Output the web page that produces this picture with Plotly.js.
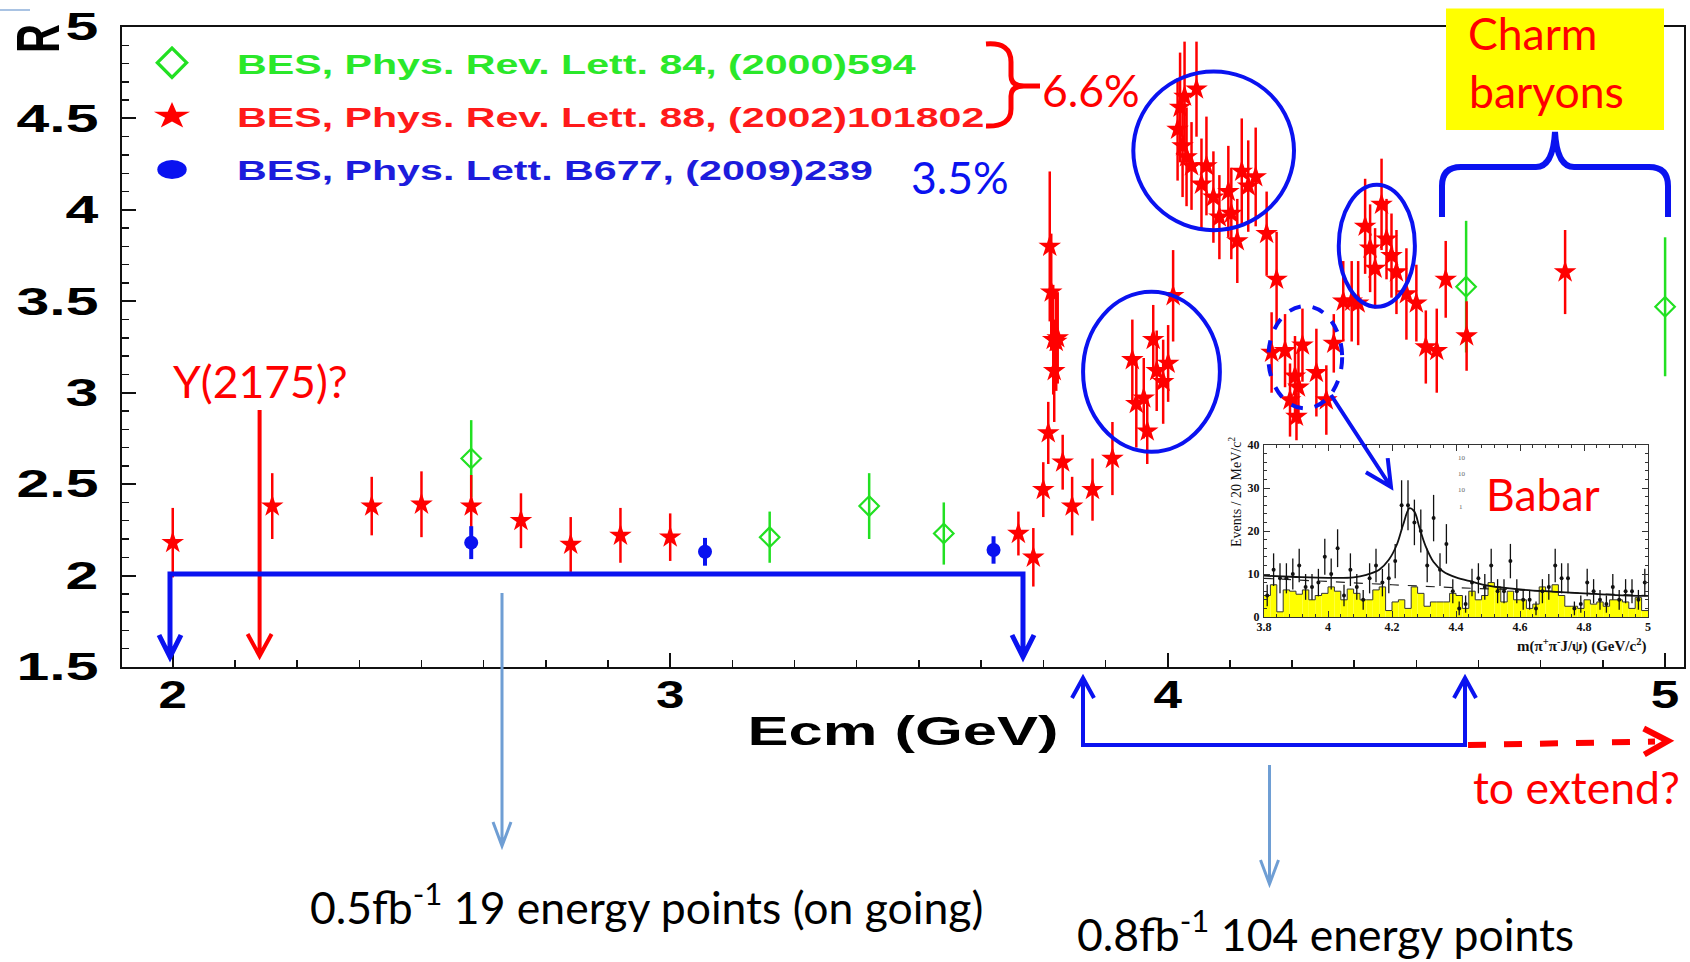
<!DOCTYPE html>
<html>
<head>
<meta charset="utf-8">
<script src="https://cdn.plot.ly/plotly-3.0.1.min.js"></script>
<style>
  html, body { margin: 0; padding: 0; background: #ffffff; }
  #chart { width: 1690px; height: 962px; }
</style>
</head>
<body>
<div id="chart"></div>
<script>
// ---- R ratio measurements (BES) ----
const bes2000_E   = [2.60, 3.20, 3.40, 3.55, 4.60, 5.00];
const bes2000_R   = [2.64, 2.21, 2.38, 2.23, 3.58, 3.47];
const bes2000_err = [0.21, 0.14, 0.18, 0.17, 0.36, 0.38];

const bes2002_E = [2.000, 2.200, 2.400, 2.500, 2.600, 2.700, 2.800, 2.900, 3.000, 3.700,
  3.730, 3.750, 3.760, 3.763, 3.766, 3.770, 3.772, 3.776, 3.779, 3.789,
  3.808, 3.849, 3.889, 3.929, 3.937, 3.952, 3.959, 3.971, 3.978, 3.991,
  4.001, 4.011, 4.020, 4.025, 4.030, 4.034, 4.038, 4.048, 4.058, 4.068,
  4.078, 4.092, 4.104, 4.122, 4.128, 4.140, 4.149, 4.162, 4.177, 4.199,
  4.209, 4.219, 4.236, 4.246, 4.256, 4.259, 4.263, 4.271, 4.299, 4.319,
  4.334, 4.353, 4.370, 4.383, 4.397, 4.407, 4.417, 4.430, 4.440, 4.450,
  4.460, 4.480, 4.500, 4.519, 4.541, 4.559, 4.601, 4.799];
const bes2002_R = [2.18, 2.38, 2.38, 2.39, 2.38, 2.30, 2.17, 2.22, 2.21, 2.23,
  2.10, 2.47, 2.78, 3.80, 3.55, 3.29, 3.12, 3.28, 3.30, 2.62,
  2.38, 2.47, 2.64, 3.18, 2.94, 2.97, 2.79, 3.29, 3.12, 3.06,
  3.16, 3.53, 4.44, 4.56, 4.35, 4.62, 4.29, 4.24, 4.66, 4.14,
  4.24, 4.07, 3.96, 4.10, 3.98, 3.83, 4.21, 4.13, 4.18, 3.87,
  3.22, 3.62, 3.23, 2.96, 3.09, 2.87, 3.03, 3.26, 3.11, 2.96,
  3.27, 3.50, 3.50, 3.49, 3.91, 3.79, 3.68, 4.03, 3.84, 3.75,
  3.66, 3.54, 3.49, 3.25, 3.23, 3.62, 3.31, 3.66];
const bes2002_err = [0.19, 0.18, 0.16, 0.18, 0.17, 0.15, 0.15, 0.15, 0.13, 0.12,
  0.16, 0.15, 0.17, 0.41, 0.32, 0.30, 0.28, 0.27, 0.25, 0.15,
  0.16, 0.17, 0.20, 0.22, 0.24, 0.22, 0.18, 0.19, 0.22, 0.23,
  0.21, 0.25, 0.28, 0.30, 0.28, 0.30, 0.27, 0.24, 0.26, 0.25,
  0.27, 0.25, 0.23, 0.25, 0.25, 0.23, 0.29, 0.25, 0.27, 0.23,
  0.22, 0.26, 0.20, 0.20, 0.22, 0.13, 0.20, 0.20, 0.24, 0.19,
  0.16, 0.22, 0.22, 0.23, 0.26, 0.24, 0.22, 0.25, 0.22, 0.23,
  0.23, 0.25, 0.21, 0.20, 0.23, 0.21, 0.19, 0.23];

const bes2009_E   = [2.60, 3.07, 3.65];
const bes2009_R   = [2.18, 2.13, 2.14];
const bes2009_err = [0.09, 0.076, 0.075];

// ---- BaBar pi+pi-J/psi mass spectrum (inset) ----
const babar_binLo = 3.80, babar_binW = 0.02;
const babar_events = [5, 11, 9, 9, 10, 12, 7, 7, 8, 14,
  10, 16, 5, 11, 7, 4, 9, 12, 8, 9,
  13, 26, 26, 22, 20, 12, 23, 11, 17, 6,
  2, 3, 8, 9, 7, 12, 6, 6, 13, 6,
  4, 4, 2, 6, 7, 12, 9, 9, 2, 3,
  8, 6, 4, 3, 7, 4, 6, 6, 4, 8];
const babar_err = [2.5, 3.8, 3.5, 3.5, 3.6, 3.9, 3.0, 3.0, 3.2, 4.2,
  3.6, 4.4, 2.5, 3.8, 3.0, 2.3, 3.5, 3.9, 3.2, 3.5,
  4.0, 5.8, 5.8, 5.3, 5.0, 3.9, 5.4, 3.8, 4.6, 2.8,
  1.6, 2.0, 3.2, 3.5, 3.0, 3.9, 2.8, 2.8, 4.0, 2.8,
  2.3, 2.3, 1.6, 2.8, 3.0, 3.9, 3.5, 3.5, 1.6, 2.0,
  3.2, 2.8, 2.3, 2.0, 3.0, 2.3, 2.8, 2.8, 2.3, 3.2];
const babar_sideband = [5, 7.5, 1.2, 6.3, 6, 5.3, 6.3, 4, 5, 5.5,
  7, 6, 4, 6.5, 5.5, 4, 4, 6.3, 7, 1.5,
  3.5, 4, 2, 7, 5.5, 2.5, 3.5, 3.5, 3.5, 5.5,
  5, 2, 6, 4, 5, 8, 7, 3.5, 6, 4,
  4, 2, 3, 7, 6, 7.5, 5, 2.5, 2.5, 2,
  4, 3, 3.5, 2.5, 4, 4, 3.5, 2, 4.5, 1.5];
const fit_m  = [3.80, 3.90, 4.00, 4.08, 4.12, 4.16, 4.19, 4.215, 4.235, 4.255, 4.27, 4.285,
  4.305, 4.33, 4.36, 4.40, 4.45, 4.50, 4.60, 4.70, 4.80, 4.90, 5.00];
const fit_ev = [9.6, 9.3, 9.1, 9.2, 9.8, 11.0, 13.3, 16.8, 21.5, 25.3, 24.5, 21.0,
  16.5, 12.8, 10.6, 9.2, 8.2, 7.3, 6.4, 5.9, 5.5, 5.1, 4.9];
const bkgfit_m  = [3.80, 4.00, 4.20, 4.40, 4.60, 4.80, 5.00];
const bkgfit_ev = [9.0, 8.2, 7.5, 6.8, 6.3, 5.5, 5.0];

// ---- axis ticks ----
const xTickVals = [2, 3, 4, 5];
const xTickText = ['2', '3', '4', '5'];
const yTickVals = [1.5, 2, 2.5, 3, 3.5, 4, 4.5, 5];
const yTickText = ['1.5', '2', '2.5', '3', '3.5', '4', '4.5', '5'];
const insetXTicks = [3.8, 4.0, 4.2, 4.4, 4.6, 4.8, 5.0];
const insetXText  = ['3.8', '4', '4.2', '4.4', '4.6', '4.8', '5'];
const insetYTicks = [0, 10, 20, 30, 40];

// ---- colours & fonts ----
const RED = '#ff0000', GREEN = '#22e022', BLUE = '#0a12f0', STEEL = '#6f9ed4';
const BOLD = 'Liberation Sans, Arial, sans-serif';
const SLIDE = 'Lato, Open Sans, sans-serif';
const SERIF = 'Liberation Serif, Times New Roman, serif';
const SLIDE_SIZE = 44.5;

// ---- page geometry (plot frame in px) ----
const W = 1690, H = 962;
const PL = 122, PR = 1684, PT = 27, PB = 667;
const fx = p => (p - PL) / (PR - PL);
const fy = p => (PB - p) / (PB - PT);
const P = (x, y) => fx(x).toFixed(5) + ',' + fy(y).toFixed(5);

function headPath(tx, ty, fromX, fromY, len, half) {
  const dx = fromX - tx, dy = fromY - ty, d = Math.hypot(dx, dy);
  const ux = dx / d, uy = dy / d;
  const bx = tx + ux * len, by = ty + uy * len;
  return 'M' + P(bx - uy * half, by + ux * half) + 'L' + P(tx, ty) + 'L' + P(bx + uy * half, by - ux * half);
}
function arrowPath(x1, y1, x2, y2, len, half) {
  return 'M' + P(x1, y1) + 'L' + P(x2, y2) + headPath(x2, y2, x1, y1, len, half);
}
const shapes = [];
function addPath(path, color, width, dash) {
  shapes.push({ type: 'path', xref: 'paper', yref: 'paper', path: path, layer: 'above',
    line: { color: color, width: width, dash: dash || 'solid' } });
}
function addEllipse(x0, x1, y0, y1, dash) {
  shapes.push({ type: 'circle', xref: 'x', yref: 'y', x0: x0, x1: x1, y0: y0, y1: y1, layer: 'above',
    line: { color: BLUE, width: 4, dash: dash || 'solid' } });
}

// highlighted regions
addEllipse(3.931, 4.254, 3.889, 4.757);
addEllipse(3.830, 4.105, 2.677, 3.552);
addEllipse(4.2025, 4.3508, 2.914, 3.474, 'dash');
addEllipse(4.344, 4.497, 3.470, 4.137);

// "Charm baryons" box and brace
shapes.push({ type: 'rect', xref: 'paper', yref: 'paper', x0: fx(1446), x1: fx(1664), y0: fy(130), y1: fy(8.6),
  fillcolor: '#ffff00', line: { width: 0 }, layer: 'above' });
addPath('M' + P(1442, 217) + 'L' + P(1442, 186) + 'Q' + P(1442, 167) + ' ' + P(1461, 167) +
  'L' + P(1536, 167) + 'Q' + P(1553, 167) + ' ' + P(1555, 132) + 'Q' + P(1557, 167) + ' ' + P(1574, 167) +
  'L' + P(1649, 167) + 'Q' + P(1668, 167) + ' ' + P(1668, 186) + 'L' + P(1668, 217), BLUE, 6);

// brace grouping the first two datasets
addPath('M' + P(986, 44) + 'Q' + P(1011, 42) + ' ' + P(1011, 62) + 'L' + P(1011, 76) +
  'Q' + P(1011, 86) + ' ' + P(1024, 86) + 'Q' + P(1011, 86) + ' ' + P(1011, 96) +
  'L' + P(1011, 109) + 'Q' + P(1011, 127) + ' ' + P(986, 126) + 'M' + P(1022, 86) + 'L' + P(1040, 86), RED, 5);

// Y(2175) marker arrow
addPath(arrowPath(259.6, 410, 259.6, 656, 22, 12), RED, 4);

// 2.0-3.7 GeV scan bracket
addPath('M' + P(170, 655) + 'L' + P(170, 574) + 'L' + P(1023, 574) + 'L' + P(1023, 655) +
  headPath(170, 657, 170, 600, 22, 11) + headPath(1023, 657, 1023, 600, 22, 11), BLUE, 5);
addPath(arrowPath(502, 593, 502, 846, 24, 9), STEEL, 3);

// 3.8-4.6 GeV scan bracket
addPath('M' + P(1083, 680) + 'L' + P(1083, 745) + 'L' + P(1465, 745) + 'L' + P(1465, 680) +
  headPath(1083, 678, 1083, 720, 20, 11) + headPath(1465, 678, 1465, 720, 20, 11), BLUE, 4);
addPath('M' + P(1468, 745) + 'L' + P(1655, 741.5), RED, 6, 'dash');
addPath(headPath(1668, 741, 1640, 741.6, 24, 13), RED, 6);
addPath(arrowPath(1269.5, 765, 1269.5, 884, 24, 9), STEEL, 3);

// pointer from the dashed region into the BaBar spectrum
addPath(arrowPath(1331, 395, 1391, 487, 26, 13), BLUE, 4);

// small rule at the page corner
addPath('M' + P(0, 10) + 'L' + P(30, 10), '#a9c3e3', 2);

// ---- annotations ----
const ann = [];
function note(text, x, y, opts) {
  ann.push(Object.assign({ text: text, xref: 'paper', yref: 'paper', x: fx(x), y: fy(y), showarrow: false,
    xanchor: 'center', yanchor: 'middle', font: { family: SLIDE, size: SLIDE_SIZE, color: '#000' } }, opts || {}));
}
const slideFont = c => ({ family: SLIDE, size: SLIDE_SIZE, color: c });
note('6.6%', 1091, 89, { font: slideFont(RED) });
note('3.5%', 960, 176, { font: slideFont(BLUE) });
note('Y(2175)?', 260, 380, { font: slideFont(RED) });
note('Charm', 1466, 32, { xanchor: 'left', font: slideFont(RED) });
note('baryons', 1467, 91, { xanchor: 'left', font: slideFont(RED) });
note('Babar', 1543, 493, { font: slideFont(RED) });
note('to extend?', 1576, 786, { font: slideFont(RED) });
note('0.5fb<sup>-1</sup> 19 energy points (on going)', 646, 903);
note('0.8fb<sup>-1</sup> 104 energy points', 1325, 930);
note('R', 37, 39, { textangle: -90, font: { family: BOLD, size: 40, weight: 'bold', color: '#000' } });
note('m(π<sup>+</sup>π<sup>-</sup>J/ψ) (GeV/c<sup>2</sup>)', 1648, 645,
  { xanchor: 'right', font: { family: SERIF, size: 15, weight: 'bold', color: '#111' } });
note('Events / 20 MeV/c<sup>2</sup>', 1235, 492,
  { textangle: -90, font: { family: SERIF, size: 14, color: '#111' } });
note('10', 1462, 458, { font: { family: SERIF, size: 7, color: '#666' } });
note('10', 1462, 474, { font: { family: SERIF, size: 7, color: '#666' } });
note('10', 1462, 490, { font: { family: SERIF, size: 7, color: '#666' } });
note('1', 1461, 507, { font: { family: SERIF, size: 7, color: '#666' } });

// ---- traces ----
const binCentres = babar_events.map((_, i) => +(babar_binLo + babar_binW * (i + 0.5)).toFixed(3));
const binEdges = babar_sideband.map((_, i) => +(babar_binLo + babar_binW * i).toFixed(3)).concat([5.0]);
const sidebandStep = babar_sideband.concat([babar_sideband[babar_sideband.length - 1]]);

const traces = [
  { type: 'scatter', mode: 'markers', name: '<span style="color:#2ae82a">BES, Phys. Rev. Lett. 84, (2000)594</span>',
    legendgroup: 'g1', x: bes2000_E, y: bes2000_R,
    error_y: { type: 'data', array: bes2000_err, visible: true, color: GREEN, thickness: 2.5, width: 0 },
    marker: { symbol: 'diamond-open', size: 15, color: GREEN, line: { width: 2.2, color: GREEN } } },
  { type: 'scatter', mode: 'markers', name: '<span style="color:#ff1a1a">BES, Phys. Rev. Lett. 88, (2002)101802</span>',
    legendgroup: 'g2', x: bes2002_E, y: bes2002_R,
    error_y: { type: 'data', array: bes2002_err, visible: true, color: RED, thickness: 2.5, width: 0 },
    marker: { symbol: 'star', size: 17, color: RED, line: { width: 0 } } },
  { type: 'scatter', mode: 'markers', name: '<span style="color:#1c1cdc">BES, Phys. Lett. B677, (2009)239</span>',
    legendgroup: 'g3', x: bes2009_E, y: bes2009_R,
    error_y: { type: 'data', array: bes2009_err, visible: true, color: BLUE, thickness: 4, width: 0 },
    marker: { symbol: 'circle', size: 14, color: BLUE } },

  // inset: BaBar spectrum
  { type: 'bar', x: binCentres, y: babar_sideband, width: babar_binW, xaxis: 'x2', yaxis: 'y2', showlegend: false,
    marker: { color: '#ffff00', line: { width: 0 } } },
  { type: 'scatter', mode: 'lines', x: binEdges, y: sidebandStep, xaxis: 'x2', yaxis: 'y2', showlegend: false,
    line: { shape: 'hv', color: '#333', width: 1 } },
  { type: 'scatter', mode: 'lines', x: bkgfit_m, y: bkgfit_ev, xaxis: 'x2', yaxis: 'y2', showlegend: false,
    line: { color: '#222', width: 1.2, dash: 'dash' } },
  { type: 'scatter', mode: 'lines', x: fit_m, y: fit_ev, xaxis: 'x2', yaxis: 'y2', showlegend: false,
    line: { color: '#111', width: 1.8, shape: 'spline' } },
  { type: 'scatter', mode: 'markers', x: binCentres, y: babar_events, xaxis: 'x2', yaxis: 'y2', showlegend: false,
    error_y: { type: 'data', array: babar_err, visible: true, color: '#111', thickness: 1.3, width: 0 },
    marker: { symbol: 'circle', size: 4, color: '#111' } }
];

const tickFont = { family: BOLD, size: 38, weight: 'bold', color: '#000' };
const insetFont = { family: SERIF, size: 12, weight: 'bold', color: '#111' };

const layout = {
  width: W, height: H,
  margin: { l: PL, r: W - PR, t: PT, b: H - PB, pad: 0 },
  paper_bgcolor: '#ffffff', plot_bgcolor: '#ffffff',
  showlegend: true,
  legend: { x: fx(107), y: fy(38), xanchor: 'left', yanchor: 'top', bgcolor: 'rgba(0,0,0,0)', borderwidth: 0,
    itemwidth: 120, tracegroupgap: 14, traceorder: 'grouped',
    font: { family: BOLD, size: 28, weight: 'bold', color: '#000' } },
  xaxis: {
    range: [1.898, 5.038], tickvals: xTickVals, ticktext: xTickText,
    ticks: 'inside', ticklen: 14, tickwidth: 2, tickcolor: '#111',
    minor: { dtick: 0.125, tick0: 2, ticks: 'inside', ticklen: 7, tickwidth: 1.5, tickcolor: '#111' },
    showline: true, linecolor: '#111', linewidth: 2, mirror: true, showgrid: false, zeroline: false,
    tickfont: tickFont, ticklabelstandoff: -7,
    title: { text: 'Ecm (GeV)', font: { family: BOLD, size: 41, weight: 'bold', color: '#000' }, standoff: 2 }
  },
  yaxis: {
    range: [1.5, 5.0], tickvals: yTickVals, ticktext: yTickText,
    ticks: 'inside', ticklen: 14, tickwidth: 2, tickcolor: '#111',
    minor: { dtick: 0.1, tick0: 1.5, ticks: 'inside', ticklen: 7, tickwidth: 1.5, tickcolor: '#111' },
    showline: true, linecolor: '#111', linewidth: 2, mirror: true, showgrid: false, zeroline: false,
    tickfont: tickFont, ticklabelstandoff: 14
  },
  xaxis2: {
    domain: [fx(1264), fx(1648)], anchor: 'y2', range: [3.8, 5.0],
    tickvals: insetXTicks, ticktext: insetXText, ticks: 'inside', ticklen: 6, tickwidth: 1, tickcolor: '#333',
    minor: { dtick: 0.04, tick0: 3.8, ticks: 'inside', ticklen: 3, tickwidth: 1, tickcolor: '#333' },
    mirror: 'allticks', showline: true, linecolor: '#333', linewidth: 1, showgrid: false, zeroline: false,
    tickfont: insetFont, ticklabelstandoff: -1
  },
  yaxis2: {
    domain: [fy(617), fy(445)], anchor: 'x2', range: [0, 40],
    tickvals: insetYTicks, ticks: 'inside', ticklen: 6, tickwidth: 1, tickcolor: '#333',
    minor: { dtick: 2, tick0: 0, ticks: 'inside', ticklen: 3, tickwidth: 1, tickcolor: '#333' },
    mirror: 'allticks', showline: true, linecolor: '#333', linewidth: 1, showgrid: false, zeroline: false,
    tickfont: insetFont, ticklabelstandoff: 1
  },
  shapes: shapes,
  annotations: ann
};

// widen the heavy sans-serif labels horizontally
function widen(selector, k) {
  document.querySelectorAll(selector).forEach(function (t) {
    const w = t.getComputedTextLength();
    if (w > 0) {
      t.setAttribute('textLength', (w * k).toFixed(1));
      t.setAttribute('lengthAdjust', 'spacingAndGlyphs');
    }
  });
}

Plotly.newPlot('chart', traces, layout, { displayModeBar: false, responsive: false, staticPlot: true })
  .then(function () {
    widen('#chart g.xtick text', 1.35);
    widen('#chart g.ytick text', 1.55);
    widen('#chart g.g-xtitle text', 1.5);
    widen('#chart text.legendtext', 1.47);
    // let the widened legend entries run past the computed legend box
    document.querySelectorAll('#chart g.legend [clip-path]').forEach(function (el) {
      el.removeAttribute('clip-path');
    });
    // larger legend symbols
    const legendScale = [[1.5, 1.5], [1.7, 1.25], [2.1, 1.35]];
    document.querySelectorAll('#chart g.legend g.traces').forEach(function (g, i) {
      const s = legendScale[i];
      if (!s) return;
      g.querySelectorAll('g.legendpoints path.scatterpts').forEach(function (p) {
        const tr = p.getAttribute('transform') || '';
        p.setAttribute('transform', tr + ' scale(' + s[0] + ',' + s[1] + ')');
      });
    });
    // broaden the rotated "R" across the page
    document.querySelectorAll('#chart text.annotation-text').forEach(function (t) {
      if (t.textContent === 'R') {
        const b = t.getBBox();
        const cy = b.y + b.height / 2;
        const tr = t.getAttribute('transform') || '';
        t.setAttribute('transform', tr + ' translate(0,' + cy + ') scale(1,1.55) translate(0,' + (-cy) + ')');
      }
    });
  });
</script>
</body>
</html>
